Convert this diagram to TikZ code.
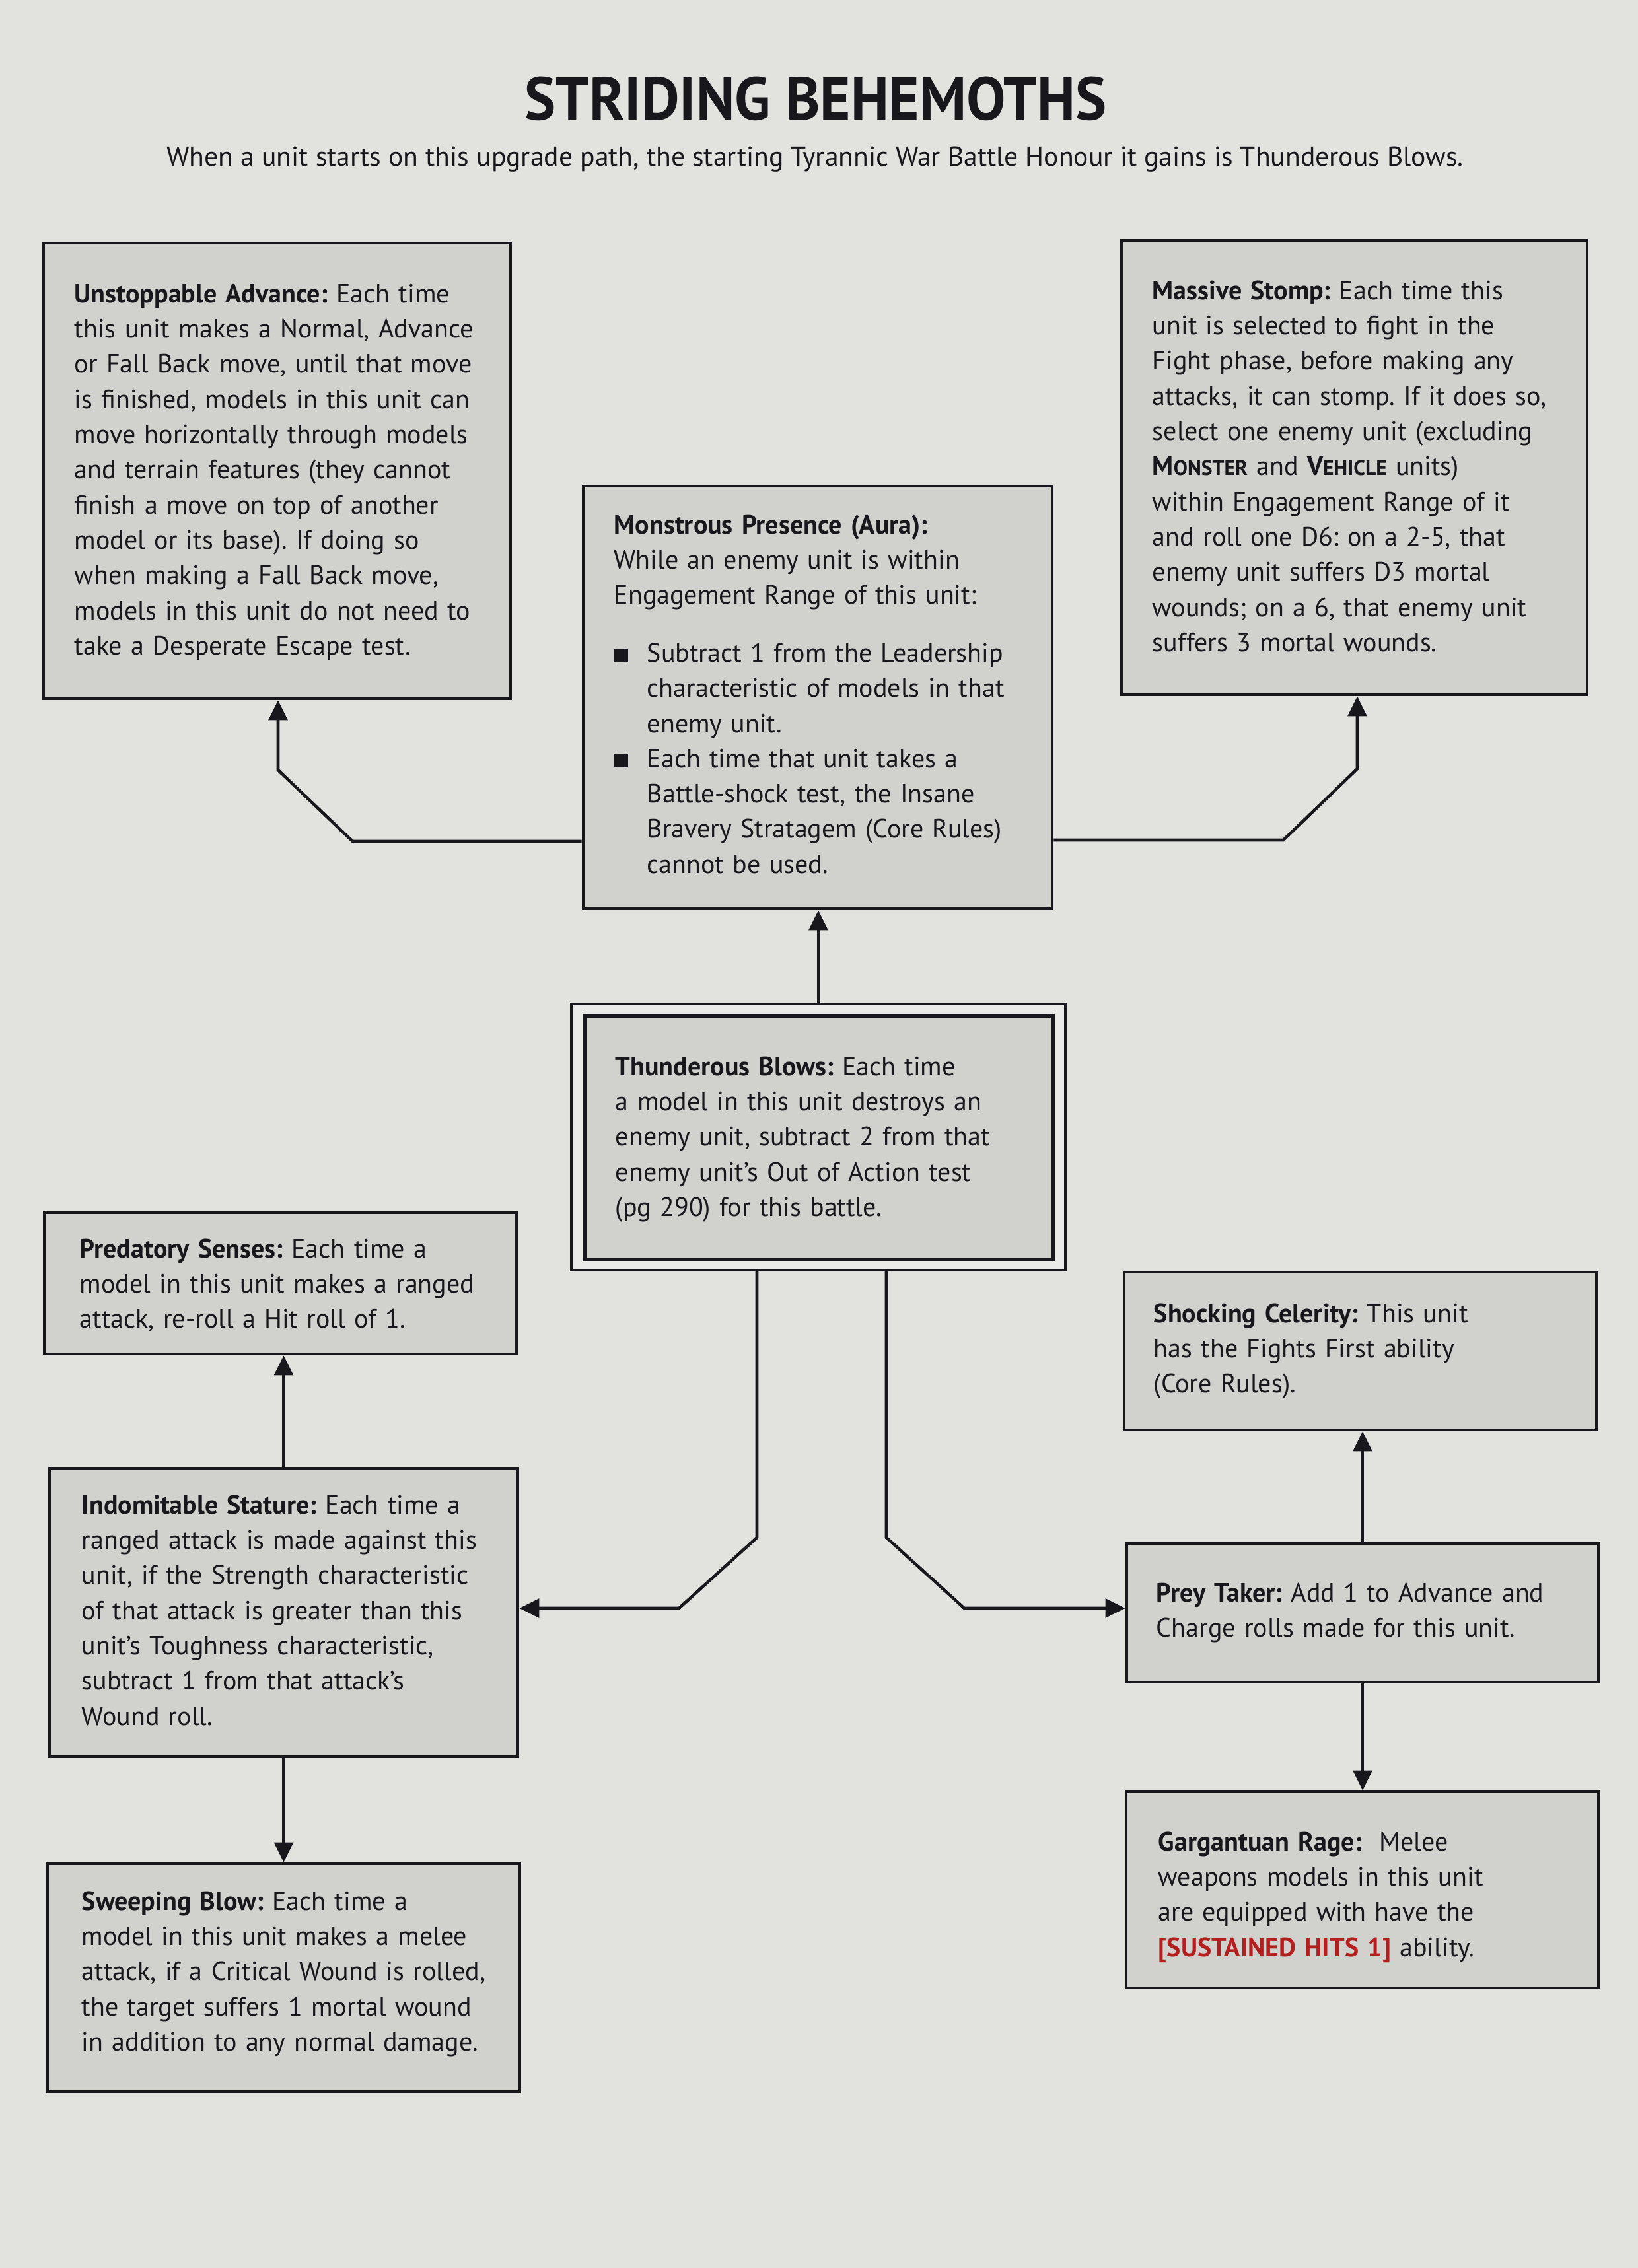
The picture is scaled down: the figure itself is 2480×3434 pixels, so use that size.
\documentclass[tikz,border=0pt]{standalone}
\usepackage{fontspec}
\setmainfont{PT Sans}
\newfontfamily\titlefont[FakeStretch=0.97]{PT Sans}
\usetikzlibrary{arrows.meta}
\definecolor{bg}{RGB}{226,226,223}
\definecolor{boxfill}{RGB}{209,209,206}
\definecolor{bandfill}{RGB}{234,234,232}
\definecolor{ink}{RGB}{24,24,28}
\definecolor{kwred}{RGB}{180,30,30}
\frenchspacing
\newcommand{\px}[1]{#1*0.24pt}
\newcommand{\kw}[2]{\textbf{#1{\fontsize{7.6}{12.8}\selectfont #2}}}
\newcommand{\bul}{\makebox[12pt][l]{\rule{5pt}{5pt}}}
\newcommand{\ind}{\hspace*{12pt}}
\tikzset{
  box/.style={draw=ink, line width=1.1pt, fill=boxfill, inner sep=0pt},
  txt/.style={anchor=north west, inner sep=0pt, align=left, text=ink,
    text width=\px{730}, font=\fontsize{9.6}{12.8}\selectfont},
  arr/.style={draw=ink, line width=1.1pt, line join=miter,
    -{Triangle[length=7.2pt,width=6.8pt]}}
}
\begin{document}
\begin{tikzpicture}[x=0.24pt,y=-0.24pt]
\fill[bg] (0,0) rectangle (2480,3434);
\useasboundingbox (0,0) rectangle (2480,3434);

% title
\node[text=ink, font=\titlefont\bfseries\fontsize{22}{26}\selectfont] (title) at (1235,149) {STRIDING BEHEMOTHS};
\node[text=ink, font=\fontsize{10}{13}\selectfont] (sub) at (1234,241) {When a unit starts on this upgrade path, the starting Tyrannic War Battle Honour it gains is Thunderous Blows.};

% boxes
\node[box, minimum width=\px{707}, minimum height=\px{690}] (ua) at (419.5,713) {};
\node[box, minimum width=\px{705}, minimum height=\px{688}] (ms) at (2050.5,708) {};
\node[box, minimum width=\px{710}, minimum height=\px{640}] (mp) at (1238,1056) {};
\node[box, fill=bandfill, line width=1pt, minimum width=\px{748}, minimum height=\px{403}] (tb) at (1239,1721.5) {};
\node[box, line width=1.4pt, minimum width=\px{709}, minimum height=\px{369}] (tbi) at (1239.5,1722.5) {};
\node[box, minimum width=\px{715}, minimum height=\px{214}] (ps) at (424.5,1943) {};
\node[box, minimum width=\px{709}, minimum height=\px{437}] (is) at (429.5,2441.5) {};
\node[box, minimum width=\px{715}, minimum height=\px{345}] (sb) at (429.5,2994.5) {};
\node[box, minimum width=\px{715}, minimum height=\px{239}] (sc) at (2059.5,2045.5) {};
\node[box, minimum width=\px{714}, minimum height=\px{210}] (pt) at (2063,2442) {};
\node[box, minimum width=\px{715}, minimum height=\px{297}] (gr) at (2062.5,2861.5) {};

% connector bends
\coordinate (l1) at (534,1274);
\coordinate (l2) at (421,1166);
\coordinate (r1) at (1943,1272);
\coordinate (r2) at (2055,1164);
\coordinate (bl1) at (1146,2328);
\coordinate (bl2) at (1028,2435);
\coordinate (br1) at (1342,2328);
\coordinate (br2) at (1460,2435);

\draw[arr] (mp.west |- l1) -- (l1) -- (l2) -- (l2 |- ua.south);
\draw[arr] (mp.east |- r1) -- (r1) -- (r2) -- (r2 |- ms.south);
\draw[arr] (tb.north) -- (tb.north |- mp.south);
\draw[arr] (bl1 |- tb.south) -- (bl1) -- (bl2) -- (bl2 -| is.east);
\draw[arr] (br1 |- tb.south) -- (br1) -- (br2) -- (br2 -| pt.west);
\draw[arr] (is.north) -- (is.north |- ps.south);
\draw[arr] (is.south) -- (is.south |- sb.north);
\draw[arr] (pt.north) -- (pt.north |- sc.south);
\draw[arr] (pt.south) -- (pt.south |- gr.north);

% texts
\node[txt] (uat) at (112,420) {\strut\textbf{Unstoppable Advance:} Each time\\
this unit makes a Normal, Advance\\
or Fall Back move, until that move\\
is finished, models in this unit can\\
move horizontally through models\\
and terrain features (they cannot\\
finish a move on top of another\\
model or its base). If doing so\\
when making a Fall Back move,\\
models in this unit do not need to\\
take a Desperate Escape test.};

\node[txt] (mst) at (1744,415) {\strut\textbf{Massive Stomp:} Each time this\\
unit is selected to fight in the\\
Fight phase, before making any\\
attacks, it can stomp. If it does so,\\
select one enemy unit (excluding\\
\kw{M}{ONSTER} and \kw{V}{EHICLE} units)\\
within Engagement Range of it\\
and roll one D6: on a 2-5, that\\
enemy unit suffers D3 mortal\\
wounds; on a 6, that enemy unit\\
suffers 3 mortal wounds.};

\node[txt] (mpt) at (929,770) {\strut\textbf{Monstrous Presence (Aura):}\\
While an enemy unit is within\\
Engagement Range of this unit:\\[8.2pt]
\bul Subtract 1 from the Leadership\\
\ind characteristic of models in that\\
\ind enemy unit.\\
\bul Each time that unit takes a\\
\ind Battle-shock test, the Insane\\
\ind Bravery Stratagem (Core Rules)\\
\ind cannot be used.};

\node[txt] (tbt) at (931,1590) {\strut\textbf{Thunderous Blows:} Each time\\
a model in this unit destroys an\\
enemy unit, subtract 2 from that\\
enemy unit’s Out of Action test\\
(pg 290) for this battle.};

\node[txt] (pst) at (120,1866) {\strut\textbf{Predatory Senses:} Each time a\\
model in this unit makes a ranged\\
attack, re-roll a Hit roll of 1.};

\node[txt] (ist) at (123,2254) {\strut\textbf{Indomitable Stature:} Each time a\\
ranged attack is made against this\\
unit, if the Strength characteristic\\
of that attack is greater than this\\
unit’s Toughness characteristic,\\
subtract 1 from that attack’s\\
Wound roll.};

\node[txt] (sbt) at (123,2854) {\strut\textbf{Sweeping Blow:} Each time a\\
model in this unit makes a melee\\
attack, if a Critical Wound is rolled,\\
the target suffers 1 mortal wound\\
in addition to any normal damage.};

\node[txt] (sct) at (1746,1964) {\strut\textbf{Shocking Celerity:} This unit\\
has the Fights First ability\\
(Core Rules).};

\node[txt] (ptt) at (1750,2387) {\strut\textbf{Prey Taker:} Add 1 to Advance and\\
Charge rolls made for this unit.};

\node[txt] (grt) at (1753,2764) {\strut\textbf{Gargantuan Rage:}\ \ Melee\\
weapons models in this unit\\
are equipped with have the\\
\textcolor{kwred}{\textbf{[SUSTAINED HITS 1]}} ability.};
\end{tikzpicture}
\end{document}
